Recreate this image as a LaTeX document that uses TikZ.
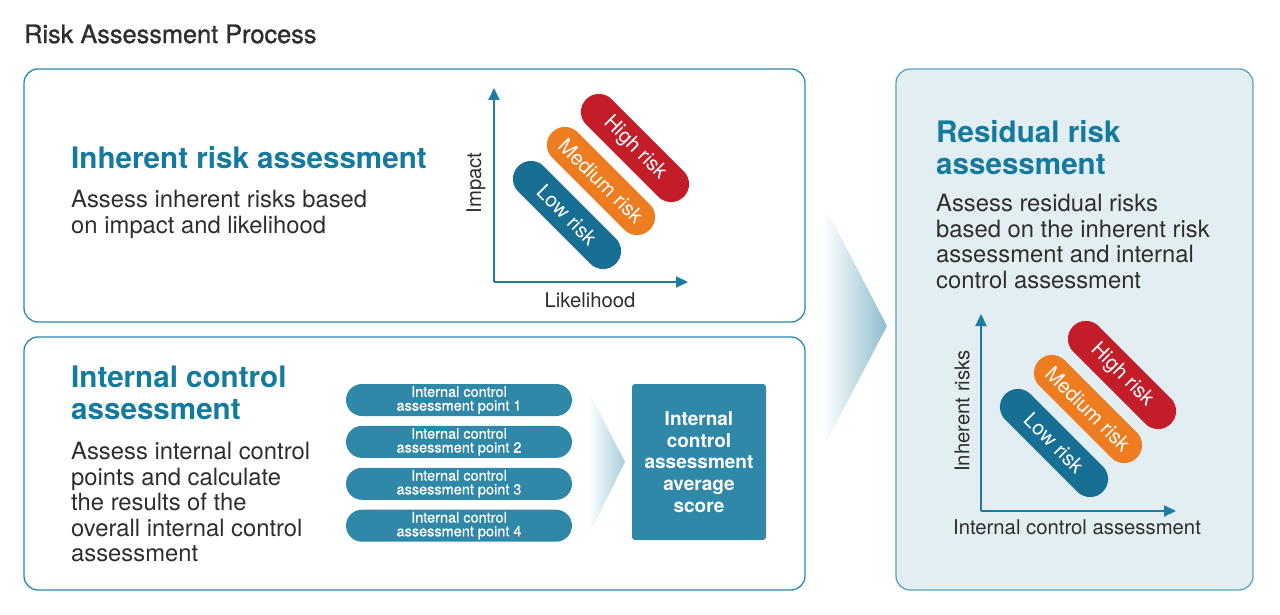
\documentclass[tikz,border=0pt]{standalone}
\usepackage{fontspec}
\setmainfont{TeX Gyre Heros}
\usepackage{tikz}
\usetikzlibrary{arrows.meta,positioning}

\definecolor{headteal}{HTML}{147A9E}
\definecolor{frameteal}{HTML}{2A88AE}
\definecolor{paleframe}{HTML}{5EA3BC}
\definecolor{palefill}{HTML}{E3EEF3}
\definecolor{pillteal}{HTML}{2F88A8}
\definecolor{axisteal}{HTML}{1C7CA3}
\definecolor{lowrisk}{HTML}{176F94}
\definecolor{medrisk}{HTML}{EE7D22}
\definecolor{highrisk}{HTML}{C31D2A}
\definecolor{darktext}{HTML}{2E2E2E}
\definecolor{arrowdark}{HTML}{8DBDCC}
\definecolor{arrowlight}{HTML}{A9CEDA}

\tikzstyle{panel}=[draw=frameteal,line width=1.3pt,rounded corners=14pt]
\tikzstyle{heading}=[anchor=north west,inner sep=0pt,align=left,text=headteal,font=\bfseries\fontsize{29.6}{32}\selectfont]
\tikzstyle{body}=[anchor=north west,inner sep=0pt,align=left,text=darktext,font=\fontsize{23.8}{25.5}\selectfont]
\tikzstyle{riskpill}=[rounded corners=18pt,minimum height=36pt,minimum width=138pt,inner sep=0pt,text=white,font=\fontsize{20.5}{20.5}\selectfont,rotate=-45]
\tikzstyle{pointpill}=[fill=pillteal,rounded corners=16pt,minimum height=32pt,minimum width=226pt,inner sep=0pt,text=white,align=center,font=\fontsize{14.5}{13.8}\selectfont\addfontfeature{FakeBold=0.6}]
\tikzstyle{axis}=[draw=axisteal,line width=2pt,-{Triangle[length=12pt,width=11pt]}]
\tikzstyle{axislabel}=[text=darktext,inner sep=0pt,font=\fontsize{20.3}{20.3}\selectfont]

\begin{document}
\begin{tikzpicture}[x=1pt,y=-1pt]
    \useasboundingbox (0,0) rectangle (1280,615);

    \node [anchor=west,inner sep=0pt,text=darktext,font=\fontsize{25.3}{25.3}\selectfont\addfontfeature{FakeBold=1.2}] (title) at (24,34) {Risk Assessment Process};

    % panels
    \draw [panel] (24,69) rectangle (805,322);
    \draw [panel] (24,337) rectangle (805,590);
    \draw [panel,draw=paleframe,fill=palefill] (896,69) rectangle (1253,590);

    % big arrow
    \shade [left color=white,right color=arrowdark] (823,203) -- (887,326) -- (823,448) -- cycle;

    % inherent risk
    \node [heading] (inhhead) at (71,146) {Inherent risk assessment};
    \node [body] (inhbody) at (71,190) {Assess inherent risks based\\on impact and likelihood};

    \coordinate (o1) at (494,282);
    \coordinate (y1) at (494,88);
    \coordinate (x1) at (688,282);
    \draw [axis] (o1) -- (y1);
    \draw [axis] (o1) -- (x1);
    \node [axislabel,rotate=90] (impact) at (476,183) {Impact};
    \node [axislabel] (likely) at (590,300) {Likelihood};

    \node [riskpill,fill=lowrisk] (low1) at (567,215) {Low risk};
    \node [riskpill,fill=medrisk] (med1) at (601,181) {Medium risk};
    \node [riskpill,fill=highrisk] (high1) at (635,148) {High risk};

    % internal control
    \node [heading] (icahead) at (71,366) {Internal control\\assessment};
    \node [body] (icabody) at (71,442) {Assess internal control\\points and calculate\\the results of the\\overall internal control\\assessment};

    \node [pointpill] (pt1) at (459,400) {Internal control\\assessment point 1};
    \node [pointpill,below=9.5pt of pt1] (pt2) {Internal control\\assessment point 2};
    \node [pointpill,below=9.5pt of pt2] (pt3) {Internal control\\assessment point 3};
    \node [pointpill,below=9.5pt of pt3] (pt4) {Internal control\\assessment point 4};

    \shade [left color=white,right color=arrowlight] (588,390) -- (625,462) -- (588,537) -- cycle;

    \node [fill=pillteal,rounded corners=3pt,minimum width=134pt,minimum height=156pt,text=white,align=center,font=\bfseries\fontsize{19}{21.7}\selectfont] (score) at (699,462) {Internal\\control\\assessment\\average\\score};

    % residual risk
    \node [heading] (reshead) at (936,120) {Residual risk\\assessment};
    \node [body] (resbody) at (936,194) {Assess residual risks\\based on the inherent risk\\assessment and internal\\control assessment};

    \coordinate (o2) at (981,511);
    \coordinate (y2) at (981,314);
    \coordinate (x2) at (1176,511);
    \draw [axis] (o2) -- (y2);
    \draw [axis] (o2) -- (x2);
    \node [axislabel,rotate=90] (inrisk) at (962,411) {Inherent risks};
    \node [axislabel] (icaxis) at (1077,527) {Internal control assessment};

    \node [riskpill,fill=lowrisk] (low2) at (1054,443) {Low risk};
    \node [riskpill,fill=medrisk] (med2) at (1088,409) {Medium risk};
    \node [riskpill,fill=highrisk] (high2) at (1122,375) {High risk};
\end{tikzpicture}
\end{document}
